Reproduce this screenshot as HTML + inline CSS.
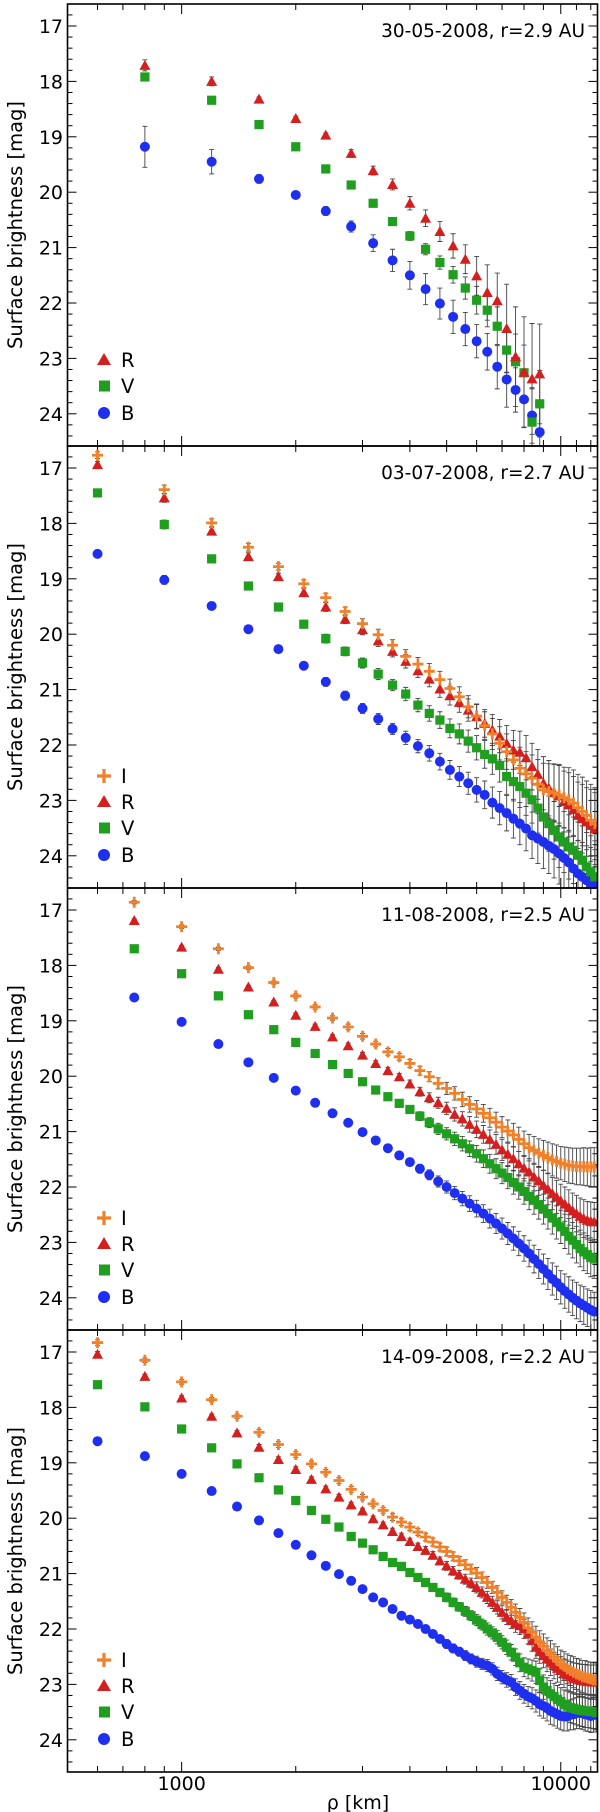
<!DOCTYPE html>
<html><head><meta charset="utf-8"><style>
html,body{margin:0;padding:0;background:#fff}
svg{display:block}
text{font-family:"DejaVu Sans","Liberation Sans",sans-serif;fill:#000}
</style></head><body>
<svg id="chart" width="600" height="1812" viewBox="0 0 600 1812" xmlns="http://www.w3.org/2000/svg"></svg>
<script>
// ---------- DATA ----------
const panelTitles = ["30-05-2008, r=2.9 AU","03-07-2008, r=2.7 AU","11-08-2008, r=2.5 AU","14-09-2008, r=2.2 AU"];
const yTickLabels = [17,18,19,20,21,22,23,24];
const xTickLabels = [1000,10000];
const bandNames = ["I","R","V","B"];

const rho1 = [800,1200,1600,2000,2400,2800,3200,3600,4000,4400,4800,5200,5600,6000,6400,6800,7200,7600,8000,8400,8800];
const p1R = [17.71,18.0,18.32,18.67,18.97,19.30,19.61,19.86,20.20,20.47,20.71,20.97,21.21,21.51,21.81,21.96,22.46,22.97,23.25,23.37,23.28];
const p1V = [17.92,18.34,18.78,19.18,19.58,19.87,20.20,20.53,20.79,21.03,21.27,21.49,21.73,21.95,22.13,22.42,22.85,23.06,23.26,24.15,23.82];
const p1B = [19.18,19.45,19.76,20.05,20.34,20.62,20.92,21.23,21.50,21.75,22.01,22.25,22.47,22.69,22.88,23.15,23.38,23.57,23.74,24.03,24.33];
const p1eR = [0.1,0.08,0.04,0.04,0.04,0.07,0.08,0.1,0.12,0.15,0.18,0.22,0.26,0.35,0.5,0.5,0.8,0.9,1.0,1.0,0.9];
const p1eV = [0.05,0.05,0.05,0.05,0.05,0.05,0.05,0.06,0.08,0.1,0.12,0.15,0.2,0.25,0.3,0.35,0.4,0.5,0.5,0.6,0.6];
const p1eB = [0.37,0.22,0.08,0.05,0.08,0.1,0.15,0.2,0.25,0.28,0.28,0.3,0.3,0.3,0.33,0.4,0.5,0.4,0.5,0.5,0.5];

const rho2 = [600,900,1200,1500,1800,2100,2400,2700,3000,3300,3600,3900,4200,4500,4800,5100,5400,5700,6000,6300,6600,6900,7200,7500,7800,8100,8400,8700,9000,9300,9600,9900,10200,10500,10800,11100,11400,11700,12000,12300];
const p2I = [16.77,17.39,17.99,18.43,18.78,19.09,19.34,19.59,19.81,20.01,20.2,20.4,20.54,20.67,20.82,20.98,21.13,21.31,21.48,21.65,21.8,21.97,22.12,22.27,22.42,22.52,22.6,22.71,22.81,22.84,22.87,22.9,22.95,22.99,23.05,23.13,23.2,23.27,23.36,23.42];
const p2R = [16.94,17.54,18.14,18.6,18.96,19.25,19.51,19.73,19.92,20.12,20.31,20.49,20.66,20.81,20.99,21.11,21.23,21.37,21.49,21.61,21.73,21.84,21.97,22.09,22.13,22.23,22.39,22.53,22.69,22.78,22.86,22.92,23.02,23.08,23.17,23.27,23.33,23.39,23.45,23.51];
const p2V = [17.45,18.02,18.64,19.13,19.51,19.82,20.08,20.31,20.52,20.72,20.92,21.08,21.28,21.43,21.55,21.7,21.8,21.93,22.05,22.17,22.25,22.37,22.57,22.66,22.75,22.87,22.99,23.14,23.3,23.42,23.54,23.66,23.75,23.84,23.9,23.99,24.08,24.2,24.29,24.38];
const p2B = [18.55,19.02,19.49,19.91,20.27,20.57,20.86,21.11,21.34,21.53,21.71,21.87,22.02,22.15,22.3,22.45,22.57,22.69,22.81,22.9,23.04,23.14,23.23,23.33,23.42,23.51,23.63,23.69,23.75,23.82,23.88,23.96,24.04,24.12,24.23,24.32,24.38,24.44,24.5,24.54];
const p2err = [0.06,0.08,0.07,0.07,0.06,0.07,0.08,0.08,0.09,0.1,0.1,0.12,0.12,0.14,0.15,0.17,0.18,0.2,0.22,0.25,0.28,0.3,0.32,0.35,0.38,0.4,0.42,0.45,0.48,0.5,0.52,0.55,0.55,0.58,0.6,0.6,0.62,0.62,0.65,0.65];

const rho3 = [750,1000,1250,1500,1750,2000,2250,2500,2750,3000,3250,3500,3750,4000,4250,4500,4750,5000,5250,5500,5750,6000,6250,6500,6750,7000,7250,7500,7750,8000,8250,8500,8750,9000,9250,9500,9750,10000,10250,10500,10750,11000,11250,11500,11750,12000,12250];
const p3I = [16.86,17.3,17.7,18.04,18.31,18.55,18.75,18.95,19.11,19.28,19.42,19.56,19.65,19.77,19.9,20.01,20.13,20.22,20.31,20.42,20.51,20.59,20.67,20.75,20.83,20.92,20.99,21.06,21.14,21.22,21.29,21.34,21.39,21.43,21.47,21.51,21.54,21.57,21.59,21.61,21.62,21.63,21.63,21.63,21.64,21.64,21.64];
const p3R = [17.19,17.67,18.07,18.39,18.66,18.9,19.1,19.29,19.45,19.62,19.77,19.9,20.01,20.14,20.28,20.39,20.48,20.58,20.69,20.77,20.87,20.96,21.05,21.14,21.23,21.33,21.41,21.49,21.58,21.66,21.73,21.82,21.89,21.97,22.04,22.12,22.18,22.25,22.31,22.37,22.43,22.48,22.53,22.57,22.6,22.62,22.63];
const p3V = [17.7,18.15,18.55,18.89,19.16,19.39,19.59,19.79,19.95,20.1,20.25,20.37,20.49,20.6,20.72,20.84,20.95,21.04,21.13,21.22,21.31,21.4,21.49,21.58,21.67,21.75,21.83,21.92,22.0,22.08,22.17,22.24,22.32,22.4,22.48,22.56,22.64,22.72,22.8,22.89,22.96,23.04,23.11,23.17,23.22,23.27,23.3];
const p3B = [18.58,19.02,19.42,19.75,20.03,20.26,20.48,20.67,20.84,21.01,21.16,21.3,21.43,21.55,21.67,21.78,21.9,22.0,22.11,22.21,22.3,22.39,22.48,22.57,22.66,22.75,22.84,22.93,23.02,23.11,23.2,23.3,23.39,23.48,23.57,23.66,23.73,23.81,23.88,23.94,24.0,24.05,24.1,24.14,24.18,24.22,24.25];
const p3err = [0.03,0.03,0.03,0.03,0.03,0.04,0.04,0.04,0.05,0.05,0.05,0.06,0.06,0.07,0.08,0.09,0.1,0.11,0.12,0.13,0.14,0.15,0.16,0.17,0.18,0.19,0.2,0.21,0.22,0.23,0.24,0.25,0.26,0.27,0.28,0.29,0.3,0.3,0.31,0.32,0.32,0.33,0.33,0.34,0.34,0.35,0.35];

const rho4 = [600,800,1000,1200,1400,1600,1800,2000,2200,2400,2600,2800,3000,3200,3400,3600,3800,4000,4200,4400,4600,4800,5000,5200,5400,5600,5800,6000,6200,6400,6600,6800,7000,7200,7400,7600,7800,8000,8200,8400,8600,8800,9000,9200,9400,9600,9800,10000,10200,10400,10600,10800,11000,11200,11400,11600,11800,12000,12200,12400];
const p4I = [16.83,17.15,17.54,17.86,18.16,18.45,18.67,18.85,19.02,19.17,19.32,19.48,19.62,19.74,19.86,19.98,20.07,20.16,20.25,20.34,20.43,20.52,20.6,20.69,20.77,20.84,20.92,20.99,21.07,21.16,21.25,21.34,21.43,21.52,21.61,21.7,21.79,21.88,21.98,22.06,22.15,22.24,22.31,22.39,22.45,22.51,22.57,22.63,22.67,22.72,22.75,22.78,22.81,22.83,22.86,22.87,22.89,22.9,22.92,22.92];
const p4R = [17.04,17.44,17.83,18.16,18.46,18.72,18.94,19.12,19.3,19.47,19.62,19.76,19.87,20.01,20.12,20.24,20.33,20.42,20.51,20.58,20.67,20.77,20.86,20.95,21.02,21.1,21.17,21.25,21.34,21.43,21.52,21.61,21.7,21.79,21.85,21.91,21.94,22.0,22.09,22.21,22.33,22.41,22.48,22.54,22.6,22.66,22.71,22.75,22.8,22.83,22.86,22.89,22.9,22.92,22.93,22.94,22.95,22.95,22.96,22.96];
const p4V = [17.59,17.99,18.39,18.73,19.02,19.27,19.49,19.68,19.86,20.02,20.16,20.33,20.45,20.57,20.69,20.8,20.87,20.98,21.07,21.16,21.25,21.34,21.43,21.52,21.6,21.68,21.76,21.84,21.92,22.0,22.07,22.15,22.24,22.33,22.42,22.51,22.61,22.69,22.72,22.75,22.78,22.93,23.05,23.11,23.17,23.22,23.27,23.31,23.36,23.39,23.42,23.43,23.45,23.46,23.47,23.48,23.48,23.49,23.49,23.51];
const p4B = [18.61,18.88,19.2,19.51,19.79,20.04,20.27,20.48,20.67,20.86,21.01,21.13,21.28,21.43,21.52,21.64,21.76,21.83,21.91,22.0,22.09,22.18,22.27,22.35,22.41,22.48,22.54,22.59,22.63,22.66,22.72,22.81,22.87,22.92,22.96,23.05,23.11,23.17,23.22,23.25,23.3,23.36,23.39,23.43,23.48,23.51,23.54,23.57,23.58,23.57,23.55,23.54,23.52,23.51,23.52,23.54,23.55,23.57,23.55,23.55];
const p4err = [0.05,0.04,0.04,0.04,0.04,0.05,0.05,0.05,0.05,0.05,0.05,0.05,0.05,0.05,0.05,0.06,0.06,0.06,0.06,0.07,0.07,0.07,0.08,0.08,0.08,0.09,0.09,0.1,0.1,0.11,0.11,0.12,0.12,0.13,0.14,0.15,0.16,0.17,0.18,0.19,0.2,0.21,0.22,0.23,0.24,0.24,0.25,0.25,0.26,0.27,0.27,0.28,0.28,0.29,0.29,0.3,0.3,0.3,0.31,0.31];

// ---------- LAYOUT ----------
const NS = "http://www.w3.org/2000/svg";
const svg = document.getElementById("chart");
const L = 67.5, R = 597.5, panelH = 442;
const panelTops = [4, 446, 888, 1330];
const xMin = 500, xMax = 12500, yTop = 16.603, pxPerMag = 55.4;
const colors = {I:"#f0802a", R:"#d41f1f", V:"#1f9e1f", B:"#1f2ff0"};

function xScale(v){ return L + (Math.log10(v) - Math.log10(xMin)) / (Math.log10(xMax) - Math.log10(xMin)) * (R - L); }
function yScale(m, top){ return top + (m - yTop) * pxPerMag; }
function mk(tag, attrs, parent){ const e = document.createElementNS(NS, tag); for (const k in attrs) e.setAttribute(k, attrs[k]); (parent || svg).appendChild(e); return e; }

function marker(band, cx, cy, g){
  let e;
  if (band === "B") e = mk("circle", {cx:cx, cy:cy, r:5, fill:colors.B}, g);
  else if (band === "V") e = mk("rect", {x:cx-4.6, y:cy-4.6, width:9.2, height:9.2, fill:colors.V}, g);
  else if (band === "R") e = mk("polygon", {points:`${cx},${cy-5.5} ${cx-5.5},${cy+4.5} ${cx+5.5},${cy+4.5}`, fill:colors.R}, g);
  else e = mk("path", {d:`M${cx-5.5},${cy}H${cx+5.5}M${cx},${cy-5.5}V${cy+5.5}`, stroke:colors.I, "stroke-width":2.8, fill:"none"}, g);
  return e;
}

const panels = [
  {rho:rho1, series:{R:p1R, V:p1V, B:p1B}, errs:{R:p1eR, V:p1eV, B:p1eB}},
  {rho:rho2, series:{I:p2I, R:p2R, V:p2V, B:p2B}, errs:{I:p2err, R:p2err, V:p2err, B:p2err}},
  {rho:rho3, series:{I:p3I, R:p3R, V:p3V, B:p3B}, errs:{I:p3err, R:p3err, V:p3err, B:p3err}},
  {rho:rho4, series:{I:p4I, R:p4R, V:p4V, B:p4B}, errs:{I:p4err, R:p4err, V:p4err, B:p4err}}
];

const xMinor = [600,700,800,900,2000,3000,4000,5000,6000,7000,8000,9000,11000,12000];

panels.forEach((p, pi) => {
  const top = panelTops[pi], bot = top + panelH;
  const g = mk("g", {});
  
  
  const clipId = "clip" + pi;
  const cp = mk("clipPath", {id:clipId}, g);
  mk("rect", {x:L, y:top, width:R-L, height:panelH}, cp);

  const ticks = mk("g", {stroke:"#000", "stroke-width":1}, g);
  
  
  for (let k = 0; k <= 40; k++) {
    const m = 16.6 + k * 0.2;
    const yy = yScale(m, top);
    if (yy < top + 1 || yy > bot - 1) continue;
    const major = Math.abs(m - Math.round(m)) < 0.01;
    const len = major ? 9 : 5;
    mk("line", {x1:L, x2:L+len, y1:yy, y2:yy}, ticks);
    mk("line", {x1:R-len, x2:R, y1:yy, y2:yy}, ticks);
  }
  yTickLabels.forEach(v => {
    const t = mk("text", {x:63, y:yScale(v, top)+7, "text-anchor":"end", "font-size":19}, g);
    t.textContent = v;
    
    
  });
  xMinor.forEach(v => {
    const xx = xScale(v);
    mk("line", {x1:xx, x2:xx, y1:top, y2:top+6}, ticks);
    mk("line", {x1:xx, x2:xx, y1:bot-6, y2:bot}, ticks);
  });
  xTickLabels.forEach(v => {
    const xx = xScale(v);
    mk("line", {x1:xx, x2:xx, y1:top, y2:top+10}, ticks);
    mk("line", {x1:xx, x2:xx, y1:bot-10, y2:bot}, ticks);
  });

  const dg = mk("g", {"clip-path":`url(#${clipId})`}, g);
  
  
  const order = ["B","V","R","I"].filter(b => p.series[b]);
  order.forEach(b => {
    const eg = mk("g", {stroke:"#444", "stroke-width":0.9, fill:"none"}, dg);
    
    
    p.series[b].forEach((m, i) => {
      const xx = xScale(p.rho[i]), e = p.errs[b][i];
      const y1 = yScale(m - e, top), y2 = yScale(m + e, top);
      mk("path", {d:`M${xx},${y1}V${y2}M${xx-2.5},${y1}H${xx+2.5}M${xx-2.5},${y2}H${xx+2.5}`}, eg);
    });
  });
  order.forEach(b => {
    const sg = mk("g", {}, dg);
    
    
    p.series[b].forEach((m, i) => {
      const e = marker(b, xScale(p.rho[i]), yScale(m, top), sg);
      
      
    });
  });

  const fr = mk("rect", {x:L, y:top, width:R-L, height:panelH, fill:"none", stroke:"#000", "stroke-width":1.6}, g);
  
  

  const tt = mk("text", {x:585, y:top+33, "text-anchor":"end", "font-size":18.5}, g);
  tt.textContent = panelTitles[pi];
  
  

  const yt = mk("text", {x:0, y:0, "text-anchor":"middle", "font-size":19.5, transform:`translate(22,${top+panelH/2}) rotate(-90)`}, g);
  yt.textContent = "Surface brightness [mag]";
  
  

  const lg = mk("g", {}, g);
  
  
  const rowOff = {I:330, R:356, V:382, B:409};
  bandNames.filter(b => p.series[b]).forEach(b => {
    const cy = top + rowOff[b];
    const ent = mk("g", {}, lg);
    
    
    if (b === "B") mk("circle", {cx:104, cy:cy, r:6, fill:colors.B}, ent);
    else if (b === "V") mk("rect", {x:99, y:cy-5.5, width:11, height:11, fill:colors.V}, ent);
    else if (b === "R") mk("polygon", {points:`${104},${cy-7} ${97},${cy+5} ${111},${cy+5}`, fill:colors.R}, ent);
    else mk("path", {d:`M${97},${cy}H${111}M${104},${cy-7}V${cy+7}`, stroke:colors.I, "stroke-width":3.2, fill:"none"}, ent);
    const tx = mk("text", {x:121, y:cy+7, "font-size":19.5}, ent);
    tx.textContent = b;
  });
});

xTickLabels.forEach(v => {
  const t = mk("text", {x:xScale(v), y:1790, "text-anchor":"middle", "font-size":19});
  t.textContent = v;
  
  
});
const xt = mk("text", {x:358, y:1809, "text-anchor":"middle", "font-size":19});
xt.textContent = "ρ [km]";


</script>
</body></html>
